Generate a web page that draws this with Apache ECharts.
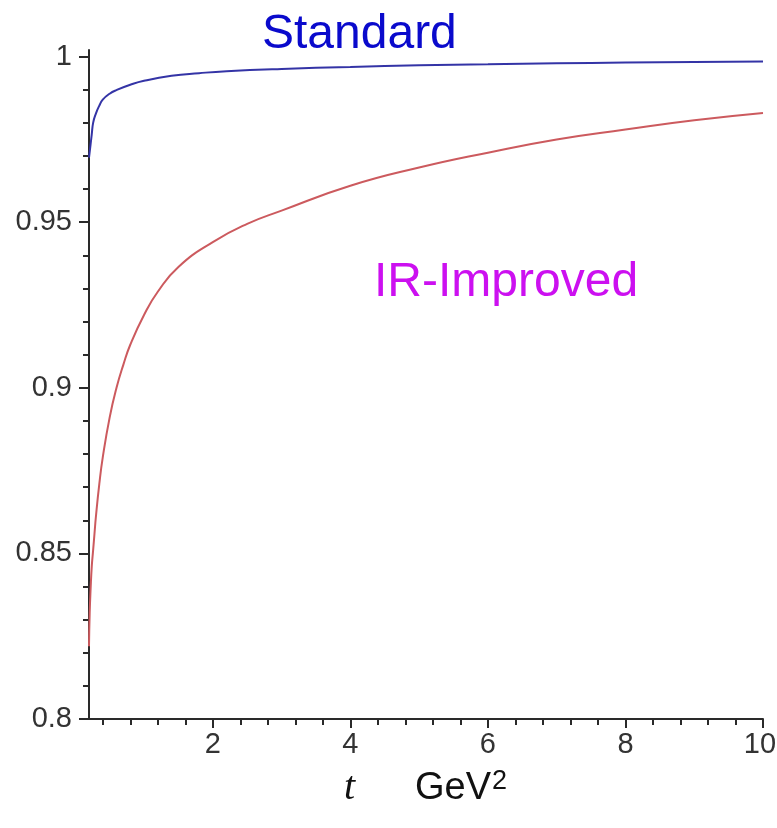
<!DOCTYPE html>
<html>
<head>
<meta charset="utf-8">
<script src="https://cdn.jsdelivr.net/npm/echarts@6/dist/echarts.min.js"></script>
<style>html,body{margin:0;padding:0;background:#fff}#c{width:777px;height:828px}</style>
</head>
<body>
<div id="c"></div>
<script>
// Data
const standardT = [0.2, 0.22, 0.24, 0.26, 0.3, 0.35, 0.4, 0.5, 0.6, 0.8, 1.0, 1.4, 1.8, 2.2, 3.0, 4.0, 5.0, 6.0, 7.0, 8.0, 9.0, 10];
const standardY = [0.9695, 0.973, 0.9765, 0.980, 0.9828, 0.9852, 0.987, 0.9888, 0.9899, 0.9915, 0.9927, 0.9942, 0.995, 0.9956, 0.9963, 0.9969, 0.9974, 0.9977, 0.998, 0.9982, 0.9984, 0.9985];
const improvedT = [0.2, 0.21, 0.225, 0.24, 0.26, 0.28, 0.3, 0.35, 0.4, 0.5, 0.6, 0.7, 0.8, 1.0, 1.2, 1.5, 2.0, 2.5, 3.0, 4.0, 5.0, 6.0, 7.0, 8.0, 9.0, 10];
const improvedY = [0.822, 0.832, 0.840, 0.846, 0.851, 0.856, 0.861, 0.871, 0.879, 0.891, 0.900, 0.907, 0.913, 0.922, 0.929, 0.9365, 0.944, 0.9495, 0.9535, 0.961, 0.9665, 0.971, 0.975, 0.978, 0.9808, 0.983];

const xMajorTicks = [2, 4, 6, 8, 10];
const xMinorTicks = [0.4, 0.8, 1.2, 1.6, 2.4, 2.8, 3.2, 3.6, 4.4, 4.8, 5.2, 5.6, 6.4, 6.8, 7.2, 7.6, 8.4, 8.8, 9.2, 9.6];
const yMajorTicks = [0.8, 0.85, 0.9, 0.95, 1];
const yMinorTicks = [0.81, 0.82, 0.83, 0.84, 0.86, 0.87, 0.88, 0.89, 0.91, 0.92, 0.93, 0.94, 0.96, 0.97, 0.98, 0.99];

const pair = (xs, ys) => xs.map((x, i) => [x, ys[i]]);

const chart = echarts.init(document.getElementById('c'), null, {renderer: 'canvas'});
const axisCol = '#2a2a2a';
const lblFont = {fontFamily: 'Liberation Sans, Arial, sans-serif', fontSize: 29, color: '#333'};

chart.setOption({
  animation: false,
  backgroundColor: '#fff',
  grid: {left: 89, right: 14, top: 50, bottom: 109, containLabel: false, outerBoundsMode: 'none'},
  xAxis: [
    {type: 'value', min: 0.2, max: 10, position: 'bottom',
     axisLine: {show: true, lineStyle: {color: axisCol, width: 2}},
     axisTick: {show: true, customValues: xMajorTicks, length: 9, lineStyle: {color: axisCol, width: 2}},
     axisLabel: {show: true, customValues: xMajorTicks, margin: 11, ...lblFont,
                 formatter: v => v === 10 ? '{r|10}' : String(v),
                 rich: {r: {fontFamily: 'Liberation Sans, Arial, sans-serif', fontSize: 29, color: '#333', padding: [0, 6, 0, 0]}}},
     splitLine: {show: false}},
    {type: 'value', min: 0.2, max: 10, position: 'bottom',
     axisLine: {show: false},
     axisTick: {show: true, customValues: xMinorTicks, length: 6, lineStyle: {color: axisCol, width: 2}},
     axisLabel: {show: false},
     splitLine: {show: false}}
  ],
  yAxis: [
    {type: 'value', min: 0.8, max: 1.002, position: 'left',
     axisLine: {show: true, lineStyle: {color: axisCol, width: 2}},
     axisTick: {show: true, customValues: yMajorTicks, length: 10, lineStyle: {color: axisCol, width: 2}},
     axisLabel: {show: true, customValues: yMajorTicks, margin: 17, ...lblFont,
                 formatter: v => String(Math.round(v * 100) / 100)},
     splitLine: {show: false}},
    {type: 'value', min: 0.8, max: 1.002, position: 'left',
     axisLine: {show: false},
     axisTick: {show: true, customValues: yMinorTicks, length: 6, lineStyle: {color: axisCol, width: 2}},
     axisLabel: {show: false},
     splitLine: {show: false}}
  ],
  series: [
    {name: 'Standard', type: 'line', xAxisIndex: 0, yAxisIndex: 0, data: pair(standardT, standardY),
     showSymbol: false, smooth: true, lineStyle: {color: '#3434a6', width: 2}},
    {name: 'IR-Improved', type: 'line', xAxisIndex: 0, yAxisIndex: 0, data: pair(improvedT, improvedY),
     showSymbol: false, smooth: true, lineStyle: {color: '#cc5a5e', width: 2}}
  ],
  graphic: [
    {type: 'text', left: 262, top: 11, style: {text: 'Standard', fill: '#0a0acc',
      font: '48px "Liberation Sans", Arial, sans-serif'}},
    {type: 'text', left: 374, top: 259, style: {text: 'IR-Improved', fill: '#cc10f0',
      font: '48px "Liberation Sans", Arial, sans-serif'}},
    {type: 'text', left: 344, top: 768, style: {
      text: '{t|t}{g|GeV}{s|2}',
      rich: {
        t: {fontFamily: '"Liberation Serif", "DejaVu Serif", serif', fontStyle: 'italic', fontSize: 40, fill: '#111', width: 71, verticalAlign: 'bottom'},
        g: {fontFamily: '"Liberation Sans", Arial, sans-serif', fontSize: 38, fill: '#111', verticalAlign: 'bottom'},
        s: {fontFamily: '"Liberation Sans", Arial, sans-serif', fontSize: 27, fill: '#111', verticalAlign: 'top', padding: [0,0,12,1]}
      }}}
  ]
});
</script>
</body>
</html>
